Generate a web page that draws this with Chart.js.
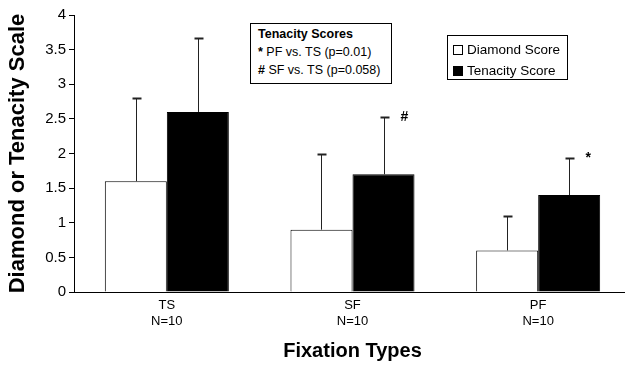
<!DOCTYPE html>
<html>
<head>
<meta charset="utf-8">
<script src="https://cdn.jsdelivr.net/npm/chart.js@4"></script>
<style>
  body { margin: 0; width: 625px; height: 366px; overflow: hidden; background: #fff; font-family: Arial, "Liberation Sans", sans-serif; }
  #wrap { position: absolute; left: 0; top: 0; width: 632px; height: 366px; }
  .box { position: absolute; border: 1px solid #000; background: #fff; color: #000; box-sizing: border-box; }
  #stats { left: 250px; top: 23px; width: 142px; height: 61px; font-size: 12.5px; }
  #stats div { position: absolute; left: 7px; white-space: nowrap; }
  #legend { left: 447px; top: 35px; width: 121px; height: 45px; font-size: 13.5px; }
  #legend div { position: absolute; left: 5px; white-space: nowrap; }
  #legend span.sw { display: inline-block; width: 8px; height: 8px; border: 1px solid #000; margin-right: 4px; vertical-align: -1px; }
</style>
</head>
<body>
<div id="wrap"><canvas id="grafico"></canvas></div>
<div id="stats" class="box"></div>
<div id="legend" class="box"></div>
<script>
const categorias = [['TS', 'N=10'], ['SF', 'N=10'], ['PF', 'N=10']];
const diamond = [1.6, 0.9, 0.6];
const diamondErr = [1.2, 1.1, 0.5];
const tenacity = [2.6, 1.7, 1.4];
const tenacityErr = [1.07, 0.83, 0.53];
const marcas = ['', '#', '*'];
const notas = ['Tenacity Scores', '* PF vs. TS (p=0.01)', '# SF vs. TS (p=0.058)'];
const yTicks = [0, 0.5, 1, 1.5, 2, 2.5, 3, 3.5, 4];

const errorBars = {
  id: 'errorBars',
  afterDatasetsDraw(chart) {
    const ctx = chart.ctx;
    const y = chart.scales.y;
    ctx.save();
    chart.data.datasets.forEach((ds, i) => {
      const meta = chart.getDatasetMeta(i);
      meta.data.forEach((bar, j) => {
        const x = Math.round(bar.x) + 0.5;
        const base = y.getPixelForValue(ds.data[j]);
        const top = Math.round(y.getPixelForValue(ds.data[j] + ds.errors[j])) + 0.5;
        ctx.strokeStyle = '#222';
        ctx.lineWidth = 1;
        ctx.beginPath();
        ctx.moveTo(x, base);
        ctx.lineTo(x, top);
        ctx.stroke();
        ctx.lineWidth = 2;
        ctx.beginPath();
        ctx.moveTo(x - 4, top);
        ctx.lineTo(x + 5, top);
        ctx.stroke();
        if (ds.marks && ds.marks[j]) {
          ctx.fillStyle = '#000';
          ctx.font = 'bold 14px Arial, "Liberation Sans"';
          ctx.textAlign = 'left';
          ctx.textBaseline = 'middle';
          ctx.fillText(ds.marks[j], x + 16, top);
        }
      });
    });
    ctx.restore();
  }
};

const chart = new Chart(document.getElementById('grafico'), {
  type: 'bar',
  data: {
    labels: categorias,
    datasets: [
      {
        label: 'Diamond Score',
        data: diamond,
        errors: diamondErr,
        backgroundColor: '#fff',
        borderColor: '#000',
        borderWidth: 1,
        categoryPercentage: 0.668,
        barPercentage: 1
      },
      {
        label: 'Tenacity Score',
        data: tenacity,
        errors: tenacityErr,
        marks: marcas,
        backgroundColor: '#000',
        borderColor: '#000',
        borderWidth: 1,
        categoryPercentage: 0.668,
        barPercentage: 1
      }
    ]
  },
  options: {
    responsive: true,
    maintainAspectRatio: false,
    animation: false,
    layout: { padding: { top: 15, right: 1, left: 0, bottom: 0 } },
    plugins: {
      legend: { display: false },
      tooltip: { enabled: false }
    },
    scales: {
      x: {
        grid: { display: false, drawTicks: false },
        border: { display: true, color: '#000', width: 1 },
        ticks: { color: '#000', padding: 6, font: { family: 'Arial, "Liberation Sans"', size: 13 } },
        title: {
          display: true,
          text: 'Fixation Types',
          color: '#000',
          padding: { top: 0, bottom: 3 },
          font: { family: 'Arial, "Liberation Sans"', size: 20, weight: 'bold', lineHeight: 1.2 }
        },
        afterFit(scale) { scale.height = 74; }
      },
      y: {
        min: 0,
        max: 4,
        afterBuildTicks(scale) { scale.ticks = yTicks.map(v => ({ value: v })); },
        grid: { display: true, drawOnChartArea: false, drawTicks: true, tickLength: 5, color: '#000' },
        border: { display: true, color: '#000', width: 1 },
        ticks: {
          color: '#000',
          padding: 3,
          font: { family: 'Arial, "Liberation Sans"', size: 15 },
          callback: v => String(v)
        },
        title: {
          display: true,
          text: 'Diamond or Tenacity Scale',
          color: '#000',
          padding: { top: 5, bottom: 0 },
          font: { family: 'Arial, "Liberation Sans"', size: 22, weight: 'bold', lineHeight: 1.2 }
        },
        afterFit(scale) { scale.width = 74; }
      }
    }
  },
  plugins: [errorBars]
});

// cuadro de notas
const stats = document.getElementById('stats');
notas.forEach((t, i) => {
  const d = document.createElement('div');
  d.style.top = [3, 21, 39][i] + 'px';
  if (i === 0) {
    d.style.fontWeight = 'bold';
    d.textContent = t;
  } else {
    d.innerHTML = '<b>' + t[0] + '</b>' + t.slice(1);
  }
  stats.appendChild(d);
});

// leyenda
const legend = document.getElementById('legend');
chart.data.datasets.forEach((ds, i) => {
  const d = document.createElement('div');
  d.style.top = [6, 27][i] + 'px';
  d.innerHTML = '<span class="sw" style="background:' + ds.backgroundColor + '"></span>' + ds.label;
  legend.appendChild(d);
});
</script>
</body>
</html>
